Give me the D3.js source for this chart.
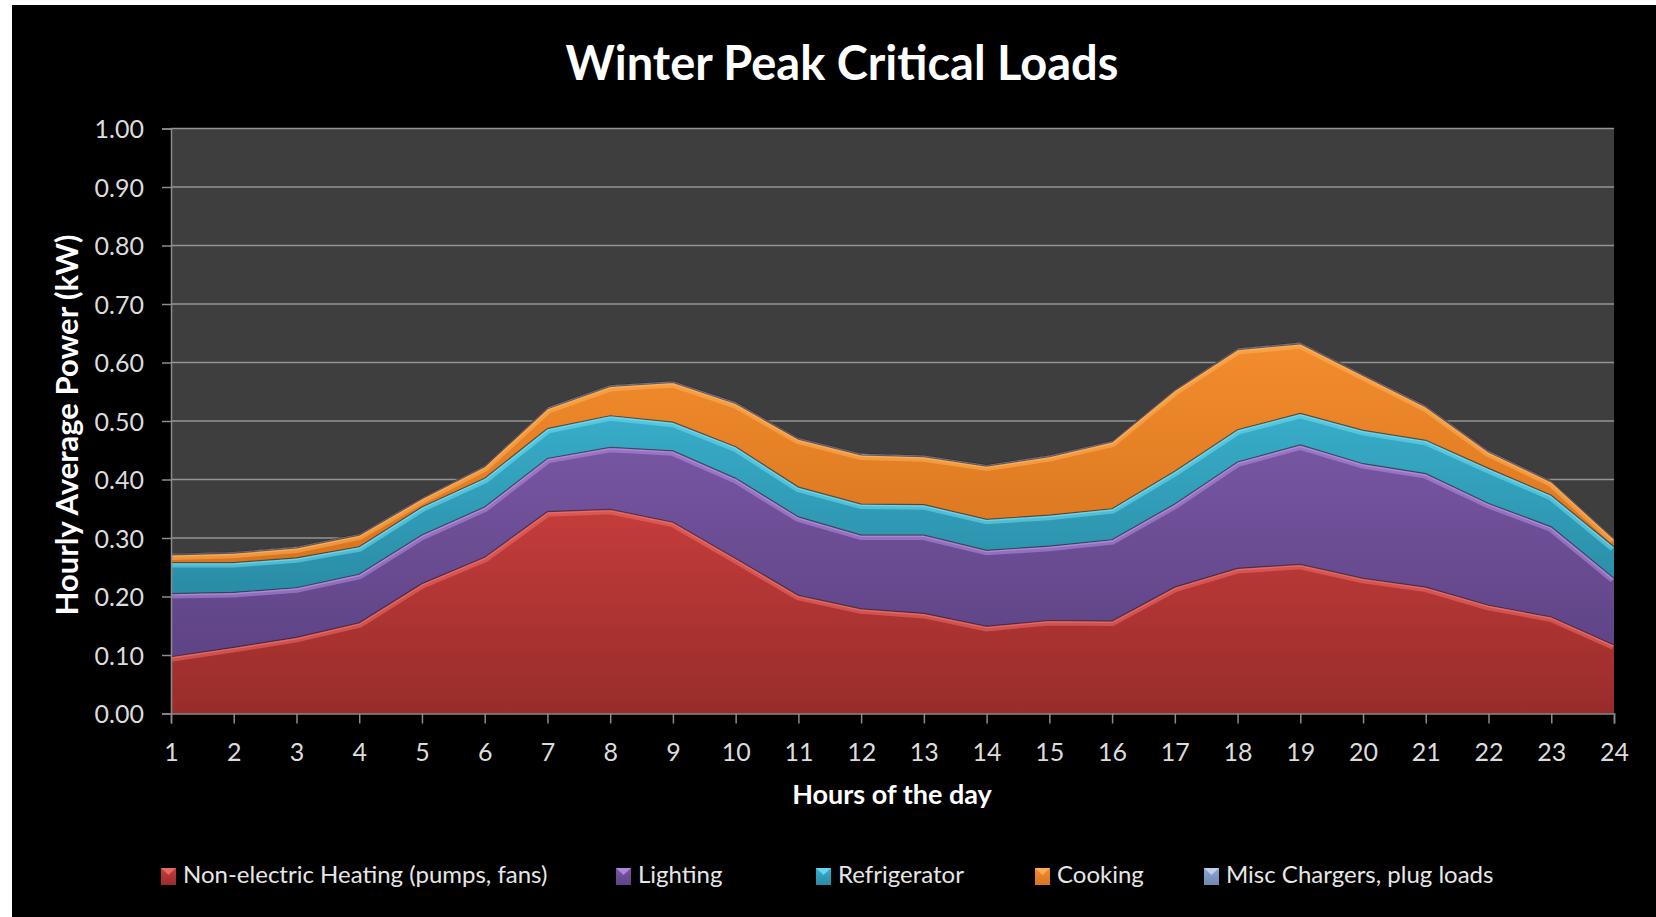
<!DOCTYPE html>
<html>
<head>
<meta charset="utf-8">
<script src="https://cdn.jsdelivr.net/npm/d3@7"></script>
<style>
  html, body { margin: 0; padding: 0; background: #fff; overflow: hidden; }
  svg { display: block; }
  text { font-family: Lato, "Open Sans", sans-serif; }
</style>
</head>
<body>
<svg id="chart" width="1656" height="917"></svg>
<script>
// data (kW, stacked layers)
const hours = [1, 2, 3, 4, 5, 6, 7, 8, 9, 10, 11, 12, 13, 14, 15, 16, 17, 18, 19, 20, 21, 22, 23, 24]
const heating = [0.097, 0.113, 0.130, 0.155, 0.222, 0.267, 0.345, 0.349, 0.327, 0.265, 0.202, 0.179,
  0.171, 0.149, 0.159, 0.158, 0.216, 0.248, 0.255, 0.231, 0.216, 0.185, 0.165, 0.117]
const lighting = [0.108, 0.094, 0.085, 0.083, 0.083, 0.086, 0.091, 0.106, 0.122, 0.137, 0.134, 0.126,
  0.134, 0.130, 0.127, 0.139, 0.142, 0.182, 0.204, 0.196, 0.194, 0.174, 0.154, 0.114]
const refrigerator = [0.053, 0.051, 0.051, 0.047, 0.048, 0.049, 0.051, 0.054, 0.049, 0.054, 0.051, 0.053,
  0.052, 0.053, 0.053, 0.053, 0.056, 0.055, 0.054, 0.057, 0.057, 0.060, 0.054, 0.054]
const cooking = [0.013, 0.016, 0.017, 0.020, 0.014, 0.020, 0.034, 0.050, 0.068, 0.074, 0.082, 0.084,
  0.082, 0.091, 0.100, 0.114, 0.138, 0.137, 0.119, 0.094, 0.057, 0.028, 0.023, 0.013]
const misc = [0.002, 0.002, 0.002, 0.002, 0.002, 0.002, 0.002, 0.002, 0.002, 0.002, 0.002, 0.002,
  0.002, 0.002, 0.002, 0.002, 0.002, 0.002, 0.002, 0.002, 0.002, 0.002, 0.002, 0.002]

const seriesNames = ['Non-electric Heating (pumps, fans)', 'Lighting', 'Refrigerator', 'Cooking', 'Misc Chargers, plug loads']
const yTicks = [0, 0.1, 0.2, 0.3, 0.4, 0.5, 0.6, 0.7, 0.8, 0.9, 1.0]

// colours: [top of fill, bottom of fill, highlight edge]
const palette = [
  ['#c43d3b', '#982c2a', '#f4726e'],
  ['#7756a2', '#5e4385', '#bb93e8'],
  ['#38adc9', '#2a8ca6', '#73e2f6'],
  ['#f28c2d', '#d8751f', '#ffb55e'],
  ['#8ea6cf', '#6f88b4', '#cad9f2']
]

const table = hours.map((h, i) => ({
  hour: h,
  s0: heating[i], s1: lighting[i], s2: refrigerator[i], s3: cooking[i], s4: misc[i]
}))
const keys = ['s0', 's1', 's2', 's3', 's4']

const margin = { left: 171, right: 1614, top: 128.5, bottom: 713.5 }

let svg = d3.select('#chart')

// black chart area (white sliver left/top like the screenshot)
svg.append('rect')
  .attr('x', 12).attr('y', 5)
  .attr('width', 1644).attr('height', 912)
  .attr('fill', '#000')

let x = d3.scaleLinear().domain([1, 24]).range([margin.left, margin.right])
let y = d3.scaleLinear().domain([0, 1]).range([margin.bottom, margin.top])

let defs = svg.append('defs')

palette.forEach((c, i) => {
  let g = defs.append('linearGradient')
    .attr('id', 'grad' + i)
    .attr('x1', 0).attr('y1', 0).attr('x2', 0).attr('y2', 1)
  g.append('stop').attr('offset', '0%').attr('stop-color', c[0])
  g.append('stop').attr('offset', '100%').attr('stop-color', c[1])
})

// plot background
svg.append('rect')
  .attr('x', margin.left).attr('y', margin.top)
  .attr('width', margin.right - margin.left)
  .attr('height', margin.bottom - margin.top)
  .attr('fill', '#3e3e3e')

// gridlines
svg.append('g')
  .selectAll('line')
  .data(yTicks.filter(t => t > 0))
  .enter().append('line')
  .attr('x1', margin.left).attr('x2', margin.right)
  .attr('y1', d => y(d)).attr('y2', d => y(d))
  .attr('stroke', '#959595')
  .attr('stroke-width', 1.3)

let stacked = d3.stack().keys(keys)(table)

let area = d3.area()
  .x(d => x(d.data.hour))
  .y0(d => y(d[0]))
  .y1(d => y(d[1]))

let topLine = d3.line()
  .x(d => x(d.data.hour))
  .y(d => y(d[1]))

let layers = svg.append('g').attr('class', 'layers')

stacked.forEach((s, i) => {
  defs.append('clipPath')
    .attr('id', 'clip' + i)
    .append('path')
    .attr('d', area(s))

  layers.append('path')
    .attr('d', area(s))
    .attr('fill', 'url(#grad' + i + ')')

  // soft lighter edge along the top of each band
  layers.append('path')
    .attr('d', topLine(s))
    .attr('clip-path', 'url(#clip' + i + ')')
    .attr('fill', 'none')
    .attr('stroke', palette[i][2])
    .attr('stroke-opacity', 0.5)
    .attr('stroke-width', 10)
  layers.append('path')
    .attr('d', topLine(s))
    .attr('clip-path', 'url(#clip' + i + ')')
    .attr('fill', 'none')
    .attr('stroke', palette[i][2])
    .attr('stroke-opacity', 0.65)
    .attr('stroke-width', 4)
})

// thin dark outlines on top of the bands
stacked.forEach(s => {
  layers.append('path')
    .attr('d', topLine(s))
    .attr('fill', 'none')
    .attr('stroke', '#2a1a22')
    .attr('stroke-opacity', 0.6)
    .attr('stroke-width', 1.2)
})

// axes
let yAxis = d3.axisLeft(y).tickValues(yTicks).tickSize(9).tickFormat(d3.format('.2f'))
let xAxis = d3.axisBottom(x).tickValues(hours).tickSize(10).tickFormat(d3.format('d'))

let gy = svg.append('g')
  .attr('transform', `translate(${margin.left},0)`)
  .call(yAxis)
let gx = svg.append('g')
  .attr('transform', `translate(0,${margin.bottom})`)
  .call(xAxis)

;[gx, gy].forEach(g => {
  g.select('.domain').attr('stroke', '#8c8c8c').attr('stroke-width', 1.5)
  g.selectAll('.tick line').attr('stroke', '#8c8c8c').attr('stroke-width', 1.5)
  g.selectAll('.tick text')
    .attr('fill', '#dcdcdc')
    .style('font-family', 'Lato, sans-serif')
    .style('font-size', '25px')
})
gy.selectAll('.tick text').attr('x', -27).attr('dy', '0.36em')
gx.selectAll('.tick text').attr('y', 30).attr('dy', '0.71em')

// titles
svg.append('text')
  .attr('x', 842).attr('y', 80)
  .attr('text-anchor', 'middle')
  .attr('fill', '#fff')
  .style('font-size', '47px')
  .style('font-weight', 700)
  .text('Winter Peak Critical Loads')

svg.append('text')
  .attr('x', 892).attr('y', 804)
  .attr('text-anchor', 'middle')
  .attr('fill', '#fff')
  .style('font-size', '27px')
  .style('font-weight', 700)
  .text('Hours of the day')

svg.append('text')
  .attr('transform', 'translate(78,425) rotate(-90)')
  .attr('text-anchor', 'middle')
  .attr('fill', '#fff')
  .style('font-size', '31px')
  .style('font-weight', 700)
  .text('Hourly Average Power (kW)')

// legend
let legendX = [161, 616, 816, 1035, 1204]
let legend = svg.append('g')
  .selectAll('g')
  .data(seriesNames)
  .enter().append('g')
  .attr('transform', (d, i) => `translate(${legendX[i]},868)`)

legend.append('rect')
  .attr('width', 15).attr('height', 17)
  .attr('fill', (d, i) => 'url(#grad' + i + ')')
legend.append('path')
  .attr('d', 'M0,0 L15,0 L7.5,7 Z')
  .attr('fill', (d, i) => palette[i][2])
  .attr('opacity', 0.8)
legend.append('text')
  .attr('x', 22).attr('y', 15)
  .attr('fill', '#e6e6e6')
  .style('font-size', '24px')
  .text(d => d)
</script>
</body>
</html>
